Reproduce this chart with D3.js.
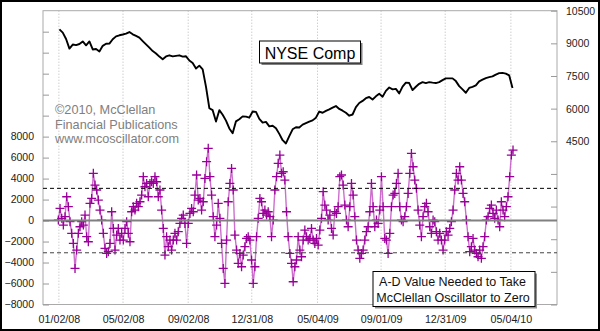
<!DOCTYPE html>
<html><head><meta charset="utf-8">
<script src="https://cdn.jsdelivr.net/npm/d3@7"></script>
<style>
html,body{margin:0;padding:0;background:#fff;}
svg{display:block;font-family:Arial,"Liberation Sans",sans-serif;}
</style></head><body>
<svg id="chart" width="600" height="331"></svg>
<script>
// ---------- DATA ----------
const xTickDates  = ["2008-01-02","2008-05-02","2008-09-02","2008-12-31","2009-05-04","2009-09-01","2009-12-31","2010-05-04"];
const xTickLabels = ["01/02/08","05/02/08","09/02/08","12/31/08","05/04/09","09/01/09","12/31/09","05/04/10"];
const leftTickValues  = [-8000,-6000,-4000,-2000,0,2000,4000,6000,8000,10000,12000,14000,16000,18000];
const leftTickLabels  = [-8000,-6000,-4000,-2000,0,2000,4000,6000,8000];
const rightTickValues = [-3000,-1500,0,1500,3000,4500,6000,7500,9000,10500];
const rightTickLabels = [4500,6000,7500,9000,10500];
const bandLevels = [3070,-3070];

// NYSE Composite (right scale), evenly spaced samples
const priceStart = "2008-01-03", priceEnd = "2010-05-07";
const priceValues = [
 9640,9490,9200,8760,8945,8920,8970,9090,8910,9090,
 8720,8740,8630,8885,8980,8990,9190,9320,9370,9405,
 9445,9520,9415,9340,9260,9105,8955,8800,8645,8535,
 8390,8270,8400,8450,8400,8425,8450,8390,8405,8210,
 8095,7845,7975,7805,7000,6020,5930,5410,5930,5720,
 5450,5090,4870,5415,5515,5645,5635,5585,5870,5850,
 5530,5360,5390,5185,5215,5100,4840,4550,4400,4735,
 5050,5145,5135,5265,5335,5405,5460,5585,5865,5810,
 5900,5970,6050,6120,5985,5905,5810,5675,5730,6070,
 6260,6355,6480,6535,6420,6565,6680,6550,6815,6970,
 6885,6910,6700,7010,7195,7175,6850,7005,7140,7220,
 7175,7220,7195,7175,7220,7310,7390,7390,7390,7265,
 7035,6885,6730,6950,7000,7065,7255,7335,7405,7445,
 7480,7565,7630,7640,7610,7530,6950];

// A-D value needed to take McClellan Oscillator to zero (left scale), evenly spaced samples
const oscStart = "2008-01-01", oscEnd = "2010-05-08";
const oscValues = [
 50,1160,210,-430,370,2270,1320,-110,-1220,-2180,-4560,-2810,-1220,-590,-110,-430,520,-1540,-2020,1640,
 2110,4500,3380,2910,1950,1000,50,-1220,-2650,-3130,-2970,-2180,840,-750,-2810,-1380,-750,-1860,-1220,-1860,
 -750,-110,-1220,-2020,840,1320,1000,1640,1320,1790,2430,4180,3220,3540,2270,3540,3700,3540,4180,3700,
 2270,2910,1000,-750,
 -3290,-1540,-2490,-1860,-2810,-1860,-1220,-1860,-1060,-270,210,520,-270,-2180,-270,680,1160,840,2430,4340,
 1950,2110,1000,1790,4020,5610,6880,4180,2430,370,-1540,-430,1640,210,-2180,-4560,-5990,-1860,1790,3540,
 4970,2910,-1380,-2810,-4080,-3130,-4400,-3290,-2490,-1700,-1540,-1860,-3760,-5990,-4400,-1540,210,2110,1790,680,
 1000,520,840,370,-1540,50,2910,4180,5450,
 6240,4500,4650,3860,840,-1540,-3130,-4080,-5830,-4400,-3760,-1540,-2810,-3450,-1860,-910,-1540,-1860,-1700,-750,
 -1860,-2180,-1700,-2340,-910,210,2750,1480,1000,50,520,-750,-1380,840,680,1320,4180,4340,3380,1480,
 50,-590,1320,3540,2430,370,-1860,-2810,-3600,-3130,-2810,-1860,-1060,-590,840,3540,1320,-590,50,-270,
 1000,4180,1320,-1700,-1860,-3130,-1220,1320,2430,
 2590,3540,4500,1320,50,-110,370,1320,2590,4500,6400,5130,3860,3070,1000,-430,-1540,370,1320,1640,
 840,-590,-1220,50,-110,-1060,-1860,-1220,-1860,-2810,-1860,-1060,-1380,-750,-110,1000,2910,4500,3860,5130,
 3860,2590,1790,50,-1540,-2970,-2490,-1700,-2810,-3130,-3450,-2810,-3600,-2490,-1540,50,370,1160,1480,680,
 210,1000,50,-590,1790,1000,370,1320,2270,4180,6240,6720];

// ---------- CHART ----------
const parse = d3.timeParse("%Y-%m-%d");
const svg = d3.select("#chart");
const L = 43, R = 557, T = 10.7, B = 304.5;

const x  = d3.scaleTime().domain([parse("2007-12-03"), parse("2010-07-30")]).range([L, R]);
const yL = d3.scaleLinear().domain([-8000, 20000]).range([B, T]);
const yR = d3.scaleLinear().domain([-3000, 10500]).range([B, T]);

function spread(start, end, n) {
  const s = parse(start).getTime(), e = parse(end).getTime();
  return d3.range(n).map(i => new Date(s + (e - s) * i / (n - 1)));
}
const priceDates = spread(priceStart, priceEnd, priceValues.length);
const oscDates   = spread(oscStart, oscEnd, oscValues.length);
const price = priceValues.map((v, i) => ({d: priceDates[i], v}));
const osc   = oscValues.map((v, i) => ({d: oscDates[i], v}));

svg.append("rect").attr("width", 600).attr("height", 331).attr("fill", "#fff");

// vertical dotted grid
svg.append("g").selectAll("line").data(xTickDates).join("line")
  .attr("x1", d => x(parse(d))).attr("x2", d => x(parse(d)))
  .attr("y1", T).attr("y2", B)
  .attr("stroke", "#b8b8b8").attr("stroke-dasharray", "1,2");

// frame
svg.append("rect").attr("x", L).attr("y", T).attr("width", R - L).attr("height", B - T)
  .attr("fill", "none").attr("stroke", "#aaa");

// axes
const fmt = d3.format("d");
const axL = svg.append("g").attr("transform", `translate(${L},0)`)
  .call(d3.axisLeft(yL).tickValues(leftTickValues).tickSize(-6).tickPadding(9)
    .tickFormat(d => leftTickLabels.includes(d) ? fmt(d) : ""));
const axR = svg.append("g").attr("transform", `translate(${R},0)`)
  .call(d3.axisRight(yR).tickValues(rightTickValues).tickSize(-6).tickPadding(9)
    .tickFormat(d => rightTickLabels.includes(d) ? fmt(d) : ""));
[axL, axR].forEach(a => {
  a.select(".domain").remove();
  a.selectAll(".tick line").attr("stroke", "#999");
  a.selectAll(".tick text").attr("fill", "#222").style("font-size", "10.5px")
    .style("font-family", "Arial, 'Liberation Sans', sans-serif");
});
const axB = svg.append("g").attr("transform", `translate(0,${B})`)
  .call(d3.axisBottom(x).tickValues(xTickDates.map(parse)).tickSize(0).tickPadding(11)
    .tickFormat((d, i) => xTickLabels[i]));
axB.select(".domain").remove();
axB.selectAll(".tick text").attr("fill", "#222").style("font-size", "10.7px")
  .style("font-family", "Arial, 'Liberation Sans', sans-serif");

// copyright
const cp = svg.append("text").attr("fill", "#808080").style("font-size", "12.7px");
["©2010, McClellan", "Financial Publications", "www.mcoscillator.com"].forEach((t, i) => {
  cp.append("tspan").attr("x", 55).attr("y", 114 + i * 14.5).text(t);
});

// price line
svg.append("path").datum(price)
  .attr("d", d3.line().x(d => x(d.d)).y(d => yR(d.v)))
  .attr("fill", "none").attr("stroke", "#000").attr("stroke-width", 1.9)
  .attr("stroke-linejoin", "round");

// oscillator line + markers
svg.append("path").datum(osc)
  .attr("d", d3.line().x(d => x(d.d)).y(d => yL(d.v)))
  .attr("fill", "none").attr("stroke", "#c455c4").attr("stroke-width", 1.4).attr("opacity", 0.85);
svg.append("g").selectAll("path").data(osc).join("path")
  .attr("transform", d => `translate(${x(d.d)},${yL(d.v)})`)
  .attr("d", "M-4.5,0H4.5M0,-4.5V4.5")
  .attr("stroke", "#990099").attr("stroke-width", 1.3).attr("fill", "none");

// zero line and bands
svg.append("line").attr("x1", L).attr("x2", R).attr("y1", yL(0)).attr("y2", yL(0))
  .attr("stroke", "#808080").attr("stroke-width", 2);
svg.append("g").selectAll("line").data(bandLevels).join("line")
  .attr("x1", L).attr("x2", R).attr("y1", d => yL(d)).attr("y2", d => yL(d))
  .attr("stroke", (d, i) => i === 0 ? "#000" : "#444").attr("stroke-dasharray", "4,3");

// NYSE Comp label box
svg.append("rect").attr("x", 261.5).attr("y", 43).attr("width", 101).attr("height", 22).attr("fill", "#808080");
svg.append("rect").attr("x", 259.5).attr("y", 41).attr("width", 101).attr("height", 22)
  .attr("fill", "#fff").attr("stroke", "#000");
svg.append("text").attr("x", 310).attr("y", 58.5).attr("text-anchor", "middle")
  .style("font-size", "16px").attr("fill", "#000").text("NYSE Comp");

// A-D legend box
svg.append("rect").attr("x", 375).attr("y", 273.5).attr("width", 162).attr("height", 35).attr("fill", "#909090");
svg.append("rect").attr("x", 373).attr("y", 271.5).attr("width", 162).attr("height", 35)
  .attr("fill", "#fff").attr("stroke", "#000");
const lg = svg.append("text").attr("text-anchor", "middle").style("font-size", "12.5px").attr("fill", "#111");
lg.append("tspan").attr("x", 452.5).attr("y", 286).text("A-D Value Needed to Take");
lg.append("tspan").attr("x", 453).attr("y", 301.5).text("McClellan Oscillator to Zero");

// outer border
svg.append("rect").attr("x", 1).attr("y", 1).attr("width", 598).attr("height", 329)
  .attr("fill", "none").attr("stroke", "#000").attr("stroke-width", 2);
</script>
</body></html>
